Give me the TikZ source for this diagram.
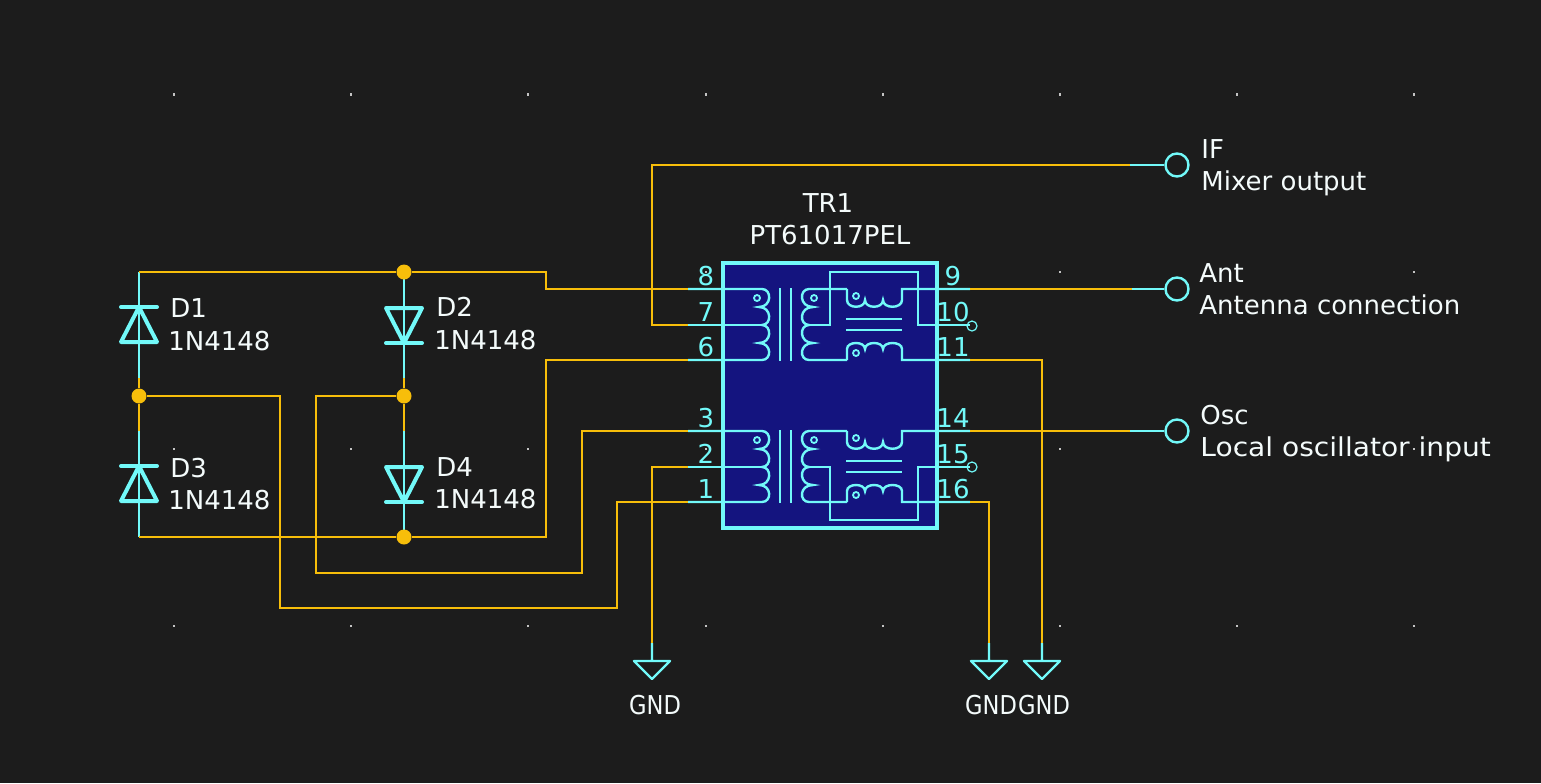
\documentclass[tikz,border=0pt]{standalone}
\usepackage{fontspec}
\usepackage{graphicx}
\setmainfont{DejaVu Sans}
\usepackage{xcolor}
\usetikzlibrary{positioning}
\definecolor{sheet}{HTML}{1C1C1C}
\definecolor{wirecol}{HTML}{F7BE0A}
\definecolor{symcol}{HTML}{72F9F9}
\definecolor{bodycol}{HTML}{14147F}
\definecolor{textcol}{HTML}{F4FBFB}
\definecolor{gridcol}{HTML}{C4C4C4}
\tikzstyle{wire} = [draw=wirecol, line width=1.2pt]
\tikzstyle{pin} = [draw=symcol, line width=1.2pt]
\tikzstyle{heavy} = [draw=symcol, line width=2pt, line join=round, line cap=round]
\tikzstyle{junction} = [circle, fill=wirecol, inner sep=0pt, minimum size=7.5pt]
\tikzstyle{port} = [circle, draw=symcol, line width=1.2pt, inner sep=0pt, minimum size=11.5pt]
\tikzstyle{nc} = [circle, draw=symcol, line width=.6pt, inner sep=0pt, minimum size=5pt]
\tikzstyle{label} = [text=textcol, inner sep=0pt, font=\fontsize{13}{16}\selectfont]
\tikzstyle{pinnum} = [text=symcol, inner sep=0pt, anchor=base, font=\fontsize{13}{16}\selectfont]
\newcommand{\squeezed}[2]{\scalebox{#1}[1]{#2}}
\tikzset{
	pics/diode/.style={code={
		\coordinate (c) at (0,-53);
		\coordinate (a) at (0,53);
		\draw[pin] (c) -- (a);
		\draw[heavy] (-18,-18) -- (18,-18);
		\draw[heavy] (0,-18) -- (18,17) -- (-18,17) -- cycle;
	}},
	pics/gnd/.style={code={
		\coordinate (in) at (0,-18);
		\draw[pin, line join=round] (in) -- (0,0) (-18,0) -- (18,0) -- (0,18) -- cycle;
	}},
	pics/mixhalf/.style={code={
		\coordinate (l1) at (0,0);
		\coordinate (l2) at (0,36);
		\coordinate (l3) at (0,71);
		\coordinate (r1) at (282,0);
		\coordinate (r2) at (282,36);
		\coordinate (r3) at (282,71);
		\coordinate (tap) at (121,36);
		% primary
		\draw[pin] (l1) -- (74,0) .. controls (84,0) and (84,18) .. (71,18)
			.. controls (84,18) and (84,36) .. (74,36)
			.. controls (84,36) and (84,54) .. (71,54)
			.. controls (84,54) and (84,71) .. (74,71) -- (l3);
		\draw[pin] (l2) -- (74,36);
		\draw[pin] (92,-1) -- (92,72) (103,-1) -- (103,72);
		% secondary
		\draw[pin] (159,0) -- (121,0) .. controls (111,0) and (111,18) .. (125,18)
			.. controls (111,18) and (111,36) .. (121,36)
			.. controls (111,36) and (111,54) .. (125,54)
			.. controls (111,54) and (111,71) .. (121,71) -- (159,71);
		% chokes
		\draw[pin] (159,0) -- (159,11) .. controls (159,20) and (177,20) .. (177,11)
			.. controls (177,20) and (195,20) .. (195,11)
			.. controls (195,20) and (214,20) .. (214,11) -- (214,0) -- (r1);
		\draw[pin] (159,71) -- (159,60) .. controls (159,52) and (177,52) .. (177,60)
			.. controls (177,52) and (195,52) .. (195,60)
			.. controls (195,52) and (214,52) .. (214,60) -- (214,71) -- (r3);
		\draw[pin] (158,30) -- (214,30) (158,41) -- (214,41);
		\foreach \dotx/\doty in {69/9, 126/9, 168/7, 168/64}
			\draw[symcol, line width=.9pt] (\dotx,\doty) circle (1.5pt);
	}}
}

\begin{document}
\begin{tikzpicture}[x=.5pt, y=-.5pt]
	\path [use as bounding box, fill=sheet] (0,0) rectangle (1541,783);
	\foreach \gx in {174,351,528,706,883,1060,1237,1414}
		\foreach \gy in {94.5,272,449,626}
			\fill [gridcol] (\gx-1.2,\gy-1.2) rectangle (\gx+1.2,\gy+1.2);

	\node [draw=symcol, fill=bodycol, line width=2pt, inner sep=0pt, minimum width=107pt,
		minimum height=132.5pt] (TR1) at (830,395.5) {};
	\pic (TA) at (688,289) {mixhalf};
	\pic (TB) at (688,431) {mixhalf};
	\coordinate (TAloopa) at (830,272);
	\coordinate (TAloopb) at (918,272);
	\coordinate (TBloopa) at (830,520);
	\coordinate (TBloopb) at (918,520);
	\draw [pin] (TAtap) -| (TAloopa) -- (TAloopb) |- (TAr2);
	\draw [pin] (TBtap) -| (TBloopa) -- (TBloopb) |- (TBr2);
	\node [nc] (TAnc) at (972,326) {};
	\node [nc] (TBnc) at (972,467) {};

	\pic (D1) at (139,325) {diode};
	\pic [rotate=180] (D2) at (404,325) {diode};
	\pic (D3) at (139,484) {diode};
	\pic [rotate=180] (D4) at (404,484) {diode};

	\pic (G1) at (652,661) {gnd};
	\pic (G2) at (989,661) {gnd};
	\pic (G3) at (1042,661) {gnd};

	\node [port] (IF) at (1177,165) {};
	\node [port] (Ant) at (1177,289) {};
	\node [port] (Osc) at (1177,431) {};
	\coordinate (IFend) at (1130,165);
	\coordinate (Antend) at (1132,289);
	\coordinate (Oscend) at (1130,431);
	\draw [pin] (IFend) -- (IF);
	\draw [pin] (Antend) -- (Ant);
	\draw [pin] (Oscend) -- (Osc);

	\node [junction] (J1) at (404,272) {};
	\node [junction] (J2) at (139,396) {};
	\node [junction] (J3) at (404,396) {};
	\node [junction] (J4) at (404,537) {};

	\draw [wire] (D1c) -- (J1);
	\draw [wire] (J1) --++ (142,0) |- (TAl1);
	\draw [wire] (TAl2) --++ (-36,0) |- (IFend);
	\draw [wire] (TAl3) --++ (-142,0) |- (J4);
	\draw [wire] (J4) -- (D3a);
	\draw [wire] (D1a) -- (J2) -- (D3c);
	\draw [wire] (D2c) -- (J3) -- (D4a);
	\draw [wire] (J3) --++ (-88,0) --++ (0,177) --++ (266,0) |- (TBl1);
	\draw [wire] (J2) --++ (141,0) --++ (0,212) --++ (337,0) |- (TBl3);
	\draw [wire] (TBl2) -| (G1in);
	\draw [wire] (TAr1) -- (Antend);
	\draw [wire] (TBr1) -- (Oscend);
	\draw [wire] (TAr3) -| (G3in);
	\draw [wire] (TBr3) -| (G2in);

	\node [label, anchor=base west] (D1ref) at (170,317) {D1};
	\node [label, anchor=base west] (D1val) at (168,350) {1N4148};
	\node [label, anchor=base west] (D2ref) at (436,316) {D2};
	\node [label, anchor=base west] (D2val) at (434,349) {1N4148};
	\node [label, anchor=base west] (D3ref) at (170,477) {D3};
	\node [label, anchor=base west] (D3val) at (168,509) {1N4148};
	\node [label, anchor=base west] (D4ref) at (436,476) {D4};
	\node [label, anchor=base west] (D4val) at (434,508) {1N4148};
	\node [label, anchor=base] (TR1ref) at (828,212) {TR1};
	\node [label, anchor=base] (TR1val) at (830,244) {PT61017PEL};
	\node [label, anchor=base west] (IFref) at (1201,158) {IF};
	\node [label, anchor=base west] (IFval) at (1201,190) {Mixer output};
	\node [label, anchor=base west] (Antref) at (1199,282) {Ant};
	\node [label, anchor=base west] (Antval) at (1199,314) {Antenna connection};
	\node [label, anchor=base west] (Oscref) at (1200,424) {Osc};
	\node [label, anchor=base west] (Oscval) at (1200,456) {\squeezed{1.08}{Local oscillator input}};
	\node [label, anchor=base] (G1val) at (655,714) {\squeezed{.87}{GND}};
	\node [label, anchor=base] (G2val) at (991,714) {\squeezed{.87}{GND}};
	\node [label, anchor=base] (G3val) at (1044,714) {\squeezed{.87}{GND}};

	\foreach \num/\px/\py in {8/706/285, 7/706/321, 6/706/356, 3/706/427, 2/706/463, 1/706/498,
		9/953/285, 10/953/321, 11/953/356, 14/953/427, 15/953/463, 16/953/498}
		\node [pinnum] (pin\num) at (\px,\py) {\num};
\end{tikzpicture}
\end{document}
